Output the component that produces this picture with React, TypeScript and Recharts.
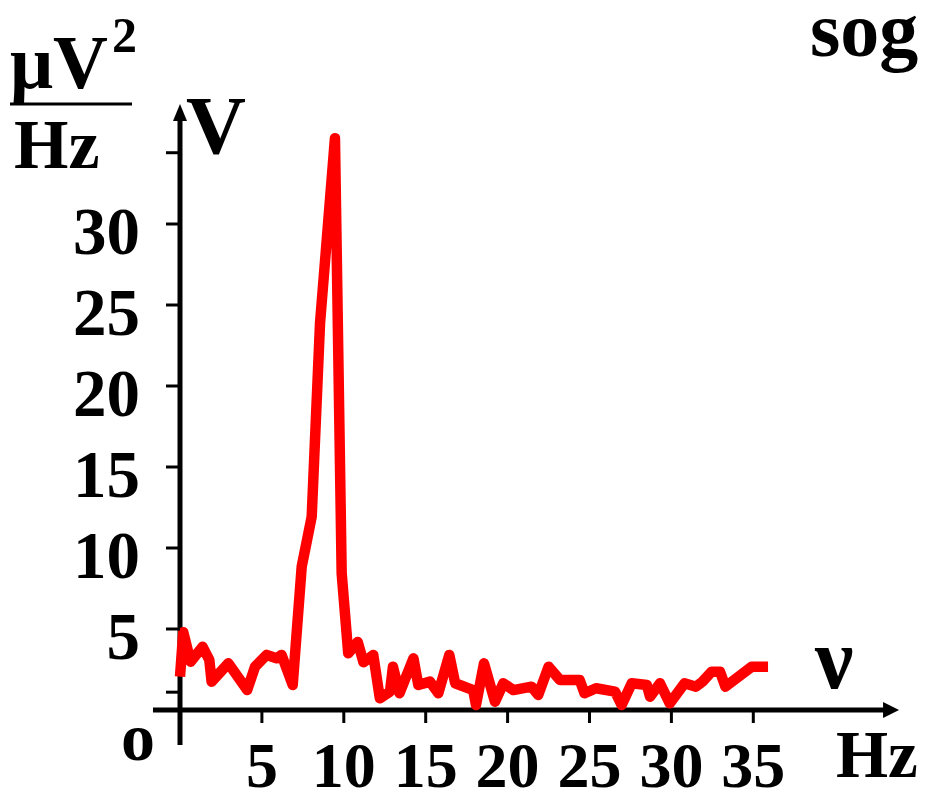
import React from "react";
import { LineChart, Line, XAxis, YAxis, ReferenceLine } from "recharts";

// spectrum (frequency in Hz, power in µV²/Hz)
const freqHz = [
  0, 0.2, 0.65, 1.38, 1.79, 1.93, 2.95, 4.1, 4.58, 5.29, 5.9, 6.2, 6.88, 7.43,
  8.04, 8.55, 9.46, 9.87, 10.27, 10.85, 11.2, 11.8, 12.2, 12.82, 13.0, 13.4,
  14.25, 14.55, 15.26, 15.77, 16.44, 16.8, 17.9, 18.07, 18.56, 19.23, 19.74,
  20.35, 21.46, 21.87, 22.5, 23.2, 24.4, 24.7, 25.4, 26.56, 26.96, 27.58, 28.5,
  28.7, 29.3, 29.9, 30.8, 31.5, 31.9, 32.45, 32.97, 33.3, 34.9, 35.9,
];
const powerUv2 = [
  2.06, 4.8, 2.98, 3.9, 3.09, 1.75, 2.88, 1.23, 2.67, 3.4, 3.19, 3.4, 1.54, 8.85,
  11.93, 23.9, 35.3, 8.44, 3.5, 4.2, 2.95, 3.4, 0.72, 1.13, 2.67, 1.03, 3.19,
  1.54, 1.75, 1.03, 3.4, 1.65, 1.23, 0.31, 2.88, 0.51, 1.65, 1.23, 1.44, 0.93,
  2.67, 1.85, 1.85, 1.03, 1.34, 1.13, 0.31, 1.65, 1.54, 0.82, 1.65, 0.41, 1.65,
  1.44, 1.75, 2.36, 2.36, 1.44, 2.67, 2.67,
];

const xTicks = [5, 10, 15, 20, 25, 30, 35];
const yTicks = [0, 1.1, 5, 10, 15, 20, 25, 30, 34.4];
const yTickLabels = ["o", "", "5", "10", "15", "20", "25", "30", ""];

const data = freqHz.map((hz, i) => ({ hz, v: powerUv2[i] }));

const FONT = '"Liberation Serif", "Times New Roman", serif';

const XTick = (props: any) => {
  const { x, y, payload } = props;
  return (
    <g>
      <line x1={x} y1={y} x2={x} y2={y + 13} stroke="#000" strokeWidth={3} />
      <text x={x} y={y + 77} textAnchor="middle" fontFamily={FONT} fontWeight="bold" fontSize={64} fill="#000">
        {payload.value}
      </text>
    </g>
  );
};

const YTick = (props: any) => {
  const { x, y, payload, index } = props;
  const label = yTickLabels[index];
  if (payload.value === 0) {
    return (
      <text x={x - 25} y={y + 50} textAnchor="end" fontFamily={FONT} fontWeight="bold" fontSize={68} fill="#000">
        {label}
      </text>
    );
  }
  return (
    <g>
      <line x1={x - 14} y1={y} x2={x} y2={y} stroke="#000" strokeWidth={3} />
      <text x={x - 40} y={y + 30} textAnchor="end" fontFamily={FONT} fontWeight="bold" fontSize={67} fill="#000">
        {label}
      </text>
    </g>
  );
};

// axis line with an arrow head at the second point
const ArrowRight = (p: any) => (
  <g>
    <line x1={p.x1} y1={p.y1} x2={p.x2 - 14} y2={p.y2} stroke="#000" strokeWidth={5} />
    <polygon points={`${p.x2},${p.y2} ${p.x2 - 16},${p.y2 - 8} ${p.x2 - 16},${p.y2 + 8}`} fill="#000" />
  </g>
);

const ArrowUp = (p: any) => {
  const top = Math.min(p.y1, p.y2);
  const bottom = Math.max(p.y1, p.y2);
  return (
    <g>
      <line x1={p.x1} y1={bottom} x2={p.x2} y2={top + 14} stroke="#000" strokeWidth={5} />
      <polygon points={`${p.x1},${top} ${p.x1 - 7},${top + 17} ${p.x1 + 7},${top + 17}`} fill="#000" />
    </g>
  );
};

export default function App() {
  return (
    <div style={{ position: "absolute", left: 0, top: 0, width: 930, height: 801, background: "#fff" }}>
      <LineChart
        width={930}
        height={801}
        data={data}
        margin={{ top: 102.5, right: 29.28, left: 0, bottom: 0 }}
      >
        <XAxis
          dataKey="hz"
          type="number"
          domain={[0, 44]}
          ticks={xTicks}
          interval={0}
          height={91}
          axisLine={false}
          tickLine={false}
          tickSize={0}
          tickMargin={0}
          tick={<XTick />}
        />
        <YAxis
          type="number"
          domain={[0, 37.5]}
          ticks={yTicks}
          interval={0}
          width={180}
          axisLine={false}
          tickLine={false}
          tickSize={0}
          tickMargin={0}
          tick={<YTick />}
        />
        <ReferenceLine
          segment={[{ x: -1.65, y: 0 }, { x: 43.9, y: 0 }]}
          ifOverflow="visible"
          shape={ArrowRight}
        />
        <ReferenceLine
          segment={[{ x: 0, y: -2.16 }, { x: 0, y: 37.4 }]}
          ifOverflow="visible"
          shape={ArrowUp}
        />
        <Line
          type="linear"
          dataKey="v"
          stroke="#ff0000"
          strokeWidth={10.5}
          strokeLinejoin="round"
          strokeLinecap="butt"
          dot={false}
          activeDot={false}
          isAnimationActive={false}
        />
      </LineChart>
      <svg
        width={930}
        height={801}
        style={{ position: "absolute", left: 0, top: 0, pointerEvents: "none" }}
        fontFamily={FONT}
        fontWeight="bold"
        fill="#000"
      >
        <text x={10} y={88} fontSize={76}>μV</text>
        <text x={112} y={52} fontSize={50}>2</text>
        <line x1={10} y1={104} x2={132} y2={104} stroke="#000" strokeWidth={3} />
        <text x={14} y={168} fontSize={70}>Hz</text>
        <text x={186} y={153} fontSize={83}>V</text>
        <text x={815} y={688} fontSize={86}>ν</text>
        <text x={836} y={777} fontSize={67}>Hz</text>
        <text x={810} y={56} fontSize={78}>sog</text>
      </svg>
    </div>
  );
}
